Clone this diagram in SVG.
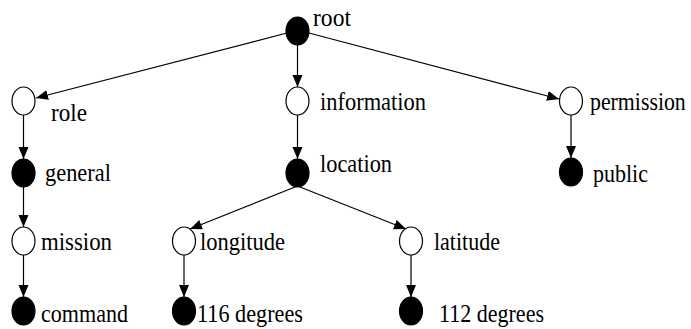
<svg xmlns="http://www.w3.org/2000/svg" width="691" height="329" viewBox="0 0 691 329">
<style>
.f{fill:#000;stroke:#000;stroke-width:1.2}
.o{fill:#fff;stroke:#000;stroke-width:1.2}
.e{stroke:#000;stroke-width:1.2;fill:none;marker-end:url(#ah)}
.t{font-family:"Liberation Serif","Times New Roman",serif;font-size:26px;fill:#000}
</style>
<defs>
<marker id="ah" markerUnits="userSpaceOnUse" markerWidth="13" markerHeight="11" refX="12" refY="5" orient="auto">
<path d="M0,0 L12,5 L0,10 z" fill="#000"/>
</marker>
</defs>
<rect width="691" height="329" fill="#fff"/>
<g id="edges">
<line class="e" x1="287" y1="33" x2="36" y2="98"/>
<line class="e" x1="297.5" y1="45" x2="297.5" y2="87"/>
<line class="e" x1="309" y1="33" x2="559" y2="99"/>
<line class="e" x1="23.5" y1="115" x2="23.5" y2="159"/>
<line class="e" x1="297.5" y1="115" x2="297.5" y2="159"/>
<line class="e" x1="571" y1="115" x2="571" y2="158"/>
<line class="e" x1="23.5" y1="187" x2="23.5" y2="227"/>
<line class="e" x1="297.5" y1="186" x2="190" y2="229"/>
<line class="e" x1="297.5" y1="186" x2="406" y2="229"/>
<line class="e" x1="23.5" y1="255" x2="23.5" y2="297"/>
<line class="e" x1="184" y1="255" x2="184" y2="297"/>
<line class="e" x1="411" y1="255" x2="411" y2="297"/>
</g>
<g id="root"><ellipse class="f" cx="297.5" cy="31" rx="11.5" ry="14"/><text class="t" transform="translate(313,26) scale(0.9,1)" textLength="42.2" lengthAdjust="spacingAndGlyphs">root</text></g>
<g id="role"><ellipse class="o" cx="23.5" cy="101" rx="11.5" ry="14"/><text class="t" transform="translate(51,121) scale(0.89,1)" textLength="40.4" lengthAdjust="spacingAndGlyphs">role</text></g>
<g id="information"><ellipse class="o" cx="297.5" cy="101" rx="11.5" ry="14"/><text class="t" transform="translate(320,110) scale(0.97,1)" textLength="109.3" lengthAdjust="spacingAndGlyphs">information</text></g>
<g id="permission"><ellipse class="o" cx="571" cy="101" rx="11.5" ry="14"/><text class="t" transform="translate(590,110) scale(0.84,1)" textLength="114" lengthAdjust="spacingAndGlyphs">permission</text></g>
<g id="general"><ellipse class="f" cx="23.5" cy="173" rx="11.5" ry="14"/><text class="t" transform="translate(45,181) scale(0.86,1)" textLength="76.7" lengthAdjust="spacingAndGlyphs">general</text></g>
<g id="location"><ellipse class="f" cx="297.5" cy="173" rx="11.5" ry="14"/><text class="t" transform="translate(320,172) scale(0.86,1)" textLength="83.7" lengthAdjust="spacingAndGlyphs">location</text></g>
<g id="public"><ellipse class="f" cx="571" cy="172" rx="11.5" ry="14"/><text class="t" transform="translate(593,182) scale(0.85,1)" textLength="64.7" lengthAdjust="spacingAndGlyphs">public</text></g>
<g id="mission"><ellipse class="o" cx="23.5" cy="241" rx="11.5" ry="14"/><text class="t" transform="translate(41,250) scale(0.88,1)" textLength="80.7" lengthAdjust="spacingAndGlyphs">mission</text></g>
<g id="longitude"><ellipse class="o" cx="184" cy="241" rx="11.5" ry="14"/><text class="t" transform="translate(200,250) scale(0.865,1)" textLength="98.3" lengthAdjust="spacingAndGlyphs">longitude</text></g>
<g id="latitude"><ellipse class="o" cx="411" cy="241" rx="11.5" ry="14"/><text class="t" transform="translate(434,250) scale(0.85,1)" textLength="77.6" lengthAdjust="spacingAndGlyphs">latitude</text></g>
<g id="command"><ellipse class="f" cx="23.5" cy="311" rx="11.5" ry="14"/><text class="t" transform="translate(41,322) scale(0.85,1)" textLength="102.4" lengthAdjust="spacingAndGlyphs">command</text></g>
<g id="deg116"><ellipse class="f" cx="184" cy="311" rx="11.5" ry="14"/><text class="t" transform="translate(197,322) scale(0.85,1)" textLength="124.7" lengthAdjust="spacingAndGlyphs">116 degrees</text></g>
<g id="deg112"><ellipse class="f" cx="411" cy="311" rx="11.5" ry="14"/><text class="t" transform="translate(439,322) scale(0.84,1)" textLength="125" lengthAdjust="spacingAndGlyphs">112 degrees</text></g>
</svg>
